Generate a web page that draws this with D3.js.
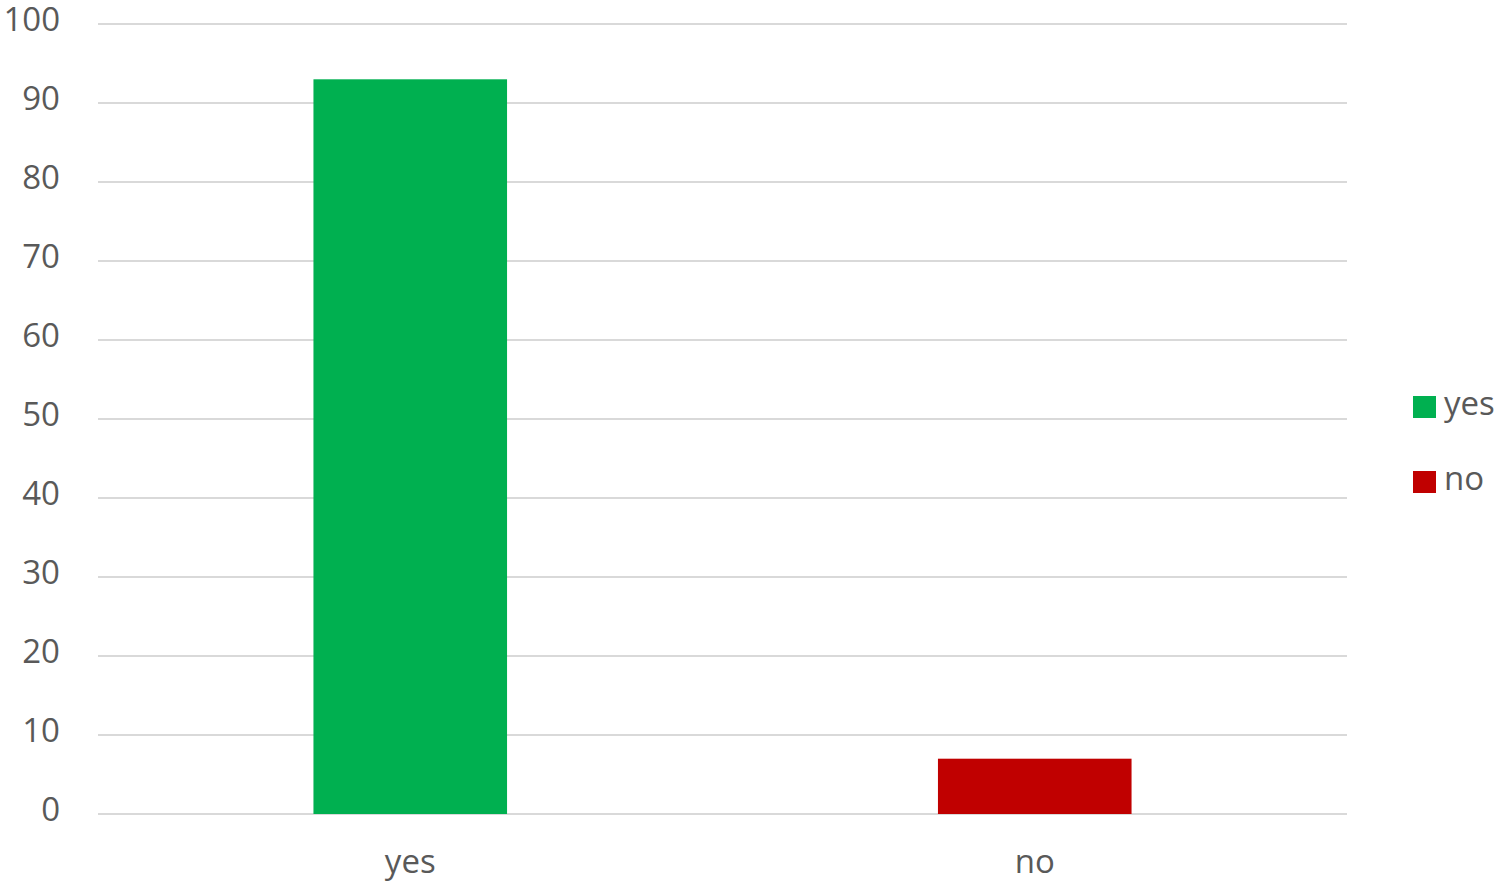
<!DOCTYPE html>
<html>
<head>
<meta charset="utf-8">
<script src="https://cdn.jsdelivr.net/npm/d3@7/dist/d3.min.js"></script>
<style>
  body { margin: 0; background: #fff; }
  text { font-family: 'Open Sans', sans-serif; fill: #595959; }
</style>
</head>
<body>
<svg id="chart" width="1500" height="886"></svg>
<script>
const categories = ['yes', 'no'];
const values = [93, 7];
const bar_colors = ['#00b050', '#c00000'];
const y_ticks = [0, 10, 20, 30, 40, 50, 60, 70, 80, 90, 100];

const svg = d3.select('#chart');

const x = d3.scaleBand().range([98, 1347]).domain(categories)
  .paddingInner(0.69).paddingOuter(0.345);
const y = d3.scaleLinear().range([814, 24]).domain([0, 100]);

// gridlines
svg.append('g').selectAll('line')
  .data(y_ticks)
  .enter().append('line')
    .attr('x1', 98)
    .attr('x2', 1347)
    .attr('y1', (d) => y(d))
    .attr('y2', (d) => y(d))
    .style('stroke', '#d9d9d9')
    .style('stroke-width', 2);

// y tick labels, sitting a little above their gridline
svg.append('g').selectAll('text')
  .data(y_ticks)
  .enter().append('text')
    .attr('x', 60)
    .attr('y', (d) => y(d) + 7)
    .attr('text-anchor', 'end')
    .style('font-size', '33px')
    .text((d) => d);

// bars
svg.append('g').selectAll('rect')
  .data(categories)
  .enter().append('rect')
    .attr('x', (d) => x(d))
    .attr('width', x.bandwidth())
    .attr('y', (d, i) => y(values[i]))
    .attr('height', (d, i) => y(0) - y(values[i]))
    .attr('fill', (d, i) => bar_colors[i]);

// x labels
svg.append('g').selectAll('text')
  .data(categories)
  .enter().append('text')
    .attr('x', (d) => x(d) + x.bandwidth() / 2)
    .attr('y', 873)
    .attr('text-anchor', 'middle')
    .style('font-size', '33px')
    .text((d) => d);

// legend
const legend = svg.append('g').selectAll('g')
  .data(categories)
  .enter().append('g')
    .attr('transform', (d, i) => 'translate(1413,' + (396 + i * 75) + ')');
legend.append('rect')
  .attr('width', 23)
  .attr('height', 22)
  .attr('fill', (d, i) => bar_colors[i]);
legend.append('text')
  .attr('x', 31)
  .attr('y', 19)
  .style('font-size', '33px')
  .text((d) => d);
</script>
</body>
</html>
